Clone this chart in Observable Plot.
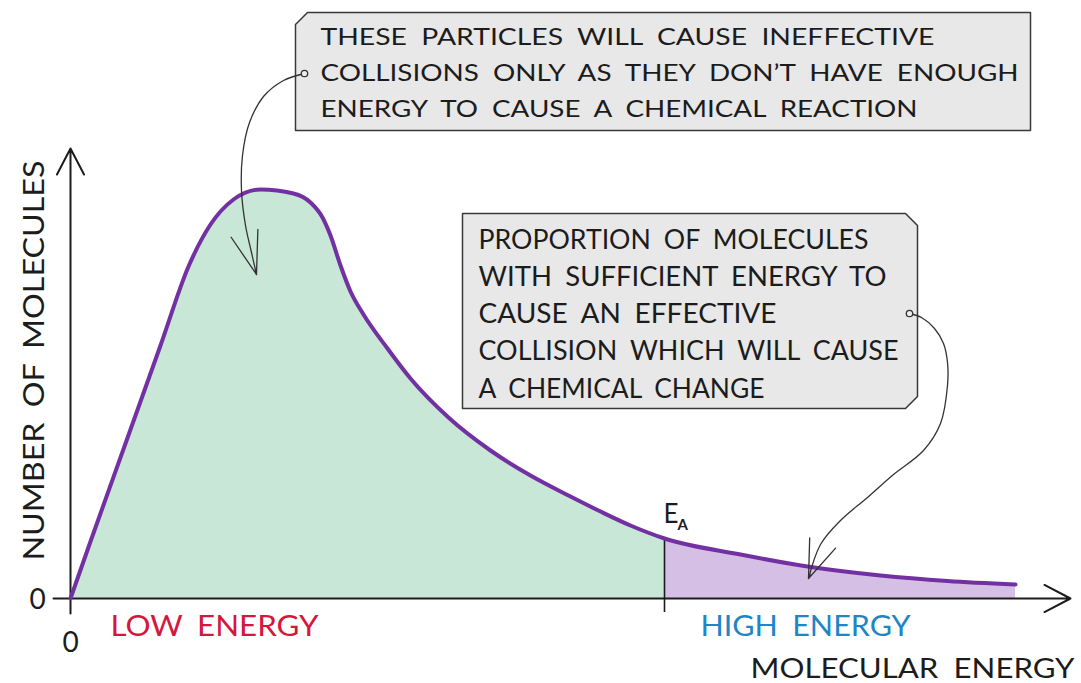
<!DOCTYPE html>
<html>
<head>
<meta charset="utf-8">
<script src="https://cdn.jsdelivr.net/npm/d3@7"></script>
<script src="https://cdn.jsdelivr.net/npm/@observablehq/plot@0.6"></script>
<style>
  html, body { margin: 0; padding: 0; background: #fff; }
  svg text { word-spacing: 6px; }
</style>
</head>
<body>
<div id="chart"></div>
<script>
// ---- Data ----
const energy    = [0, 20, 55, 90, 118, 140, 163, 190, 223, 240, 252, 260, 270, 280, 293, 317, 340, 378, 420, 460, 500, 530, 560, 594, 670, 737, 810, 877, 945];
const molecules = [0, 57, 155, 253, 332, 374, 399, 409, 405, 396, 381, 363, 333, 307, 284, 250, 220, 181, 148, 123, 102, 87, 73, 60, 44, 32, 23, 17.5, 14];
const activationEnergy = 594;
const box1Lines = ["THESE PARTICLES WILL CAUSE INEFFECTIVE", "COLLISIONS ONLY AS THEY DON\u2019T HAVE ENOUGH", "ENERGY TO CAUSE A CHEMICAL REACTION"];
const box2Lines = ["PROPORTION OF MOLECULES", "WITH SUFFICIENT ENERGY TO", "CAUSE AN EFFECTIVE", "COLLISION WHICH WILL CAUSE", "A CHEMICAL CHANGE"];
const yLabel = "NUMBER OF MOLECULES";
const xLabel = "MOLECULAR ENERGY";
const lowLabel = "LOW ENERGY";
const highLabel = "HIGH ENERGY";
const zeroLabel = "0";

// ---- Layout (pixel positions in the 1081x683 frame) ----
const px = v => v - 70;      // pixel x -> data x
const py = v => 598 - v;     // pixel y -> data y
const box1Shape = [[295,24],[307,12],[1030,12],[1030,130],[295,130],[295,24]];
const box2Shape = [[462,213],[905,213],[917,225],[917,396],[905,408],[462,408],[462,213]];
const arrow1Path = [[304,73],[283,80],[263,96],[249,122],[242,155],[241,190],[245,225],[251,252],[256,274]];
const arrow2Path = [[909,313],[921,317],[934,328],[943,343],[947,362],[947,385],[940,423],[923,450],[893,474],[867,497],[840,520],[820,544],[808,578]];
const heads = [
  {tip:[256,274], dir:[0.28,0.96], angle:36, len:52},
  {tip:[808,578], dir:[-0.37,0.93], angle:40, len:47}
];
const box1Widths = [614, 698, 597];
const box2Widths = [390, 408, 298, 420, 286];

const curve = energy.map((e, i) => ({e, m: molecules[i]}));
const low = curve.filter(d => d.e <= activationEnergy);
const high = curve.filter(d => d.e >= activationEnergy);
const eaValue = curve.find(d => d.e === activationEnergy).m;

const toPts = arr => arr.map(([x, y]) => ({x: px(x), y: py(y)}));
const headData = heads.map(h => ({
  x1: px(h.tip[0] - 150 * h.dir[0]), y1: py(h.tip[1] - 150 * h.dir[1]),
  x2: px(h.tip[0]), y2: py(h.tip[1]), angle: h.angle, len: h.len
}));

const ink = "#1c1c1c";
const fontFamily = "Lato, 'Noto Sans', sans-serif";

const chart = Plot.plot({
  width: 1081,
  height: 683,
  margin: 0,
  x: {domain: [-70, 1011], axis: null},
  y: {domain: [-85, 598], axis: null},
  style: {fontFamily, background: "#fff", color: ink},
  marks: [
    // filled areas under the distribution
    Plot.areaY(low, {x: "e", y: "m", fill: "#c9e7d7", curve: "monotone-x"}),
    Plot.areaY(high, {x: "e", y: "m", fill: "#d6bfe4", curve: "monotone-x"}),
    // axes
    Plot.arrow([{x1: -17, y1: 0, x2: 1000, y2: 0}], {x1: "x1", y1: "y1", x2: "x2", y2: "y2", stroke: ink, strokeWidth: 2, headLength: 22, headAngle: 55}),
    Plot.arrow([{x1: 0, y1: -15, x2: 0, y2: 450}], {x1: "x1", y1: "y1", x2: "x2", y2: "y2", stroke: ink, strokeWidth: 2, headLength: 22, headAngle: 55}),
    // activation energy marker
    Plot.ruleX([activationEnergy], {y1: -14, y2: eaValue, stroke: ink, strokeWidth: 1.6}),
    // the distribution curve
    Plot.line(curve, {x: "e", y: "m", stroke: "#7230a2", strokeWidth: 4, curve: "monotone-x"}),
    // annotation boxes
    Plot.line(toPts(box1Shape), {x: "x", y: "y", fill: "#e8e8e8", stroke: "#383838", strokeWidth: 1.5, curve: "linear"}),
    Plot.line(toPts(box2Shape), {x: "x", y: "y", fill: "#e8e8e8", stroke: "#383838", strokeWidth: 1.5, curve: "linear"}),
    Plot.text(box1Lines, {x: () => px(320), y: (d, i) => py(44 + i * 36), text: d => d, textAnchor: "start", lineAnchor: "bottom", fontSize: 24, fill: ink, ariaDescription: "box1-text"}),
    Plot.text(box2Lines, {x: () => px(478), y: (d, i) => py(248 + i * 37.3), text: d => d, textAnchor: "start", lineAnchor: "bottom", fontSize: 26, fill: ink, ariaDescription: "box2-text"}),
    // annotation arrows
    Plot.line(toPts(arrow1Path), {x: "x", y: "y", stroke: "#333", strokeWidth: 1.3, curve: "catmull-rom"}),
    Plot.line(toPts(arrow2Path), {x: "x", y: "y", stroke: "#333", strokeWidth: 1.3, curve: "catmull-rom"}),
    ...headData.map(h => Plot.arrow([h], {x1: "x1", y1: "y1", x2: "x2", y2: "y2", stroke: "#333", strokeWidth: 1.3, headLength: h.len, headAngle: h.angle, insetStart: 146})),
    Plot.dot([{x: px(304), y: py(73)}, {x: px(909), y: py(313)}], {x: "x", y: "y", r: 3.2, stroke: "#333", strokeWidth: 1.3, fill: "#eee"}),
    // axis and region labels
    Plot.text([yLabel], {x: () => px(43), y: () => py(360), text: d => d, rotate: -90, textAnchor: "middle", lineAnchor: "bottom", fontSize: 28, fill: ink, ariaDescription: "ylabel"}),
    Plot.text([xLabel], {x: () => px(750), y: () => py(677), text: d => d, textAnchor: "start", lineAnchor: "bottom", fontSize: 26, fill: ink, ariaDescription: "xlabel"}),
    Plot.text([lowLabel], {x: () => px(110), y: () => py(635), text: d => d, textAnchor: "start", lineAnchor: "bottom", fontSize: 28, fill: "#d5163d", ariaDescription: "lowlabel"}),
    Plot.text([highLabel], {x: () => px(700), y: () => py(635), text: d => d, textAnchor: "start", lineAnchor: "bottom", fontSize: 28, fill: "#1f86c6", ariaDescription: "highlabel"}),
    Plot.text([zeroLabel], {x: () => px(37), y: () => py(608), text: d => d, textAnchor: "middle", lineAnchor: "bottom", fontSize: 28, fill: ink}),
    Plot.text([zeroLabel], {x: () => px(70), y: () => py(651), text: d => d, textAnchor: "middle", lineAnchor: "bottom", fontSize: 28, fill: ink}),
    Plot.text(["E"], {x: () => activationEnergy - 1, y: () => py(522), text: d => d, textAnchor: "start", lineAnchor: "bottom", fontSize: 26, fill: ink}),
    Plot.text(["A"], {x: () => activationEnergy + 13, y: () => py(529), text: d => d, textAnchor: "start", lineAnchor: "bottom", fontSize: 15, fontWeight: "bold", fill: ink})
  ]
});

document.getElementById("chart").appendChild(chart);

const fit = (label, widths, adjust) => {
  chart.querySelectorAll(`g[aria-description="${label}"] text`).forEach((t, i) => {
    t.setAttribute("textLength", widths[i]);
    t.setAttribute("lengthAdjust", adjust);
  });
};
fit("box1-text", box1Widths, "spacingAndGlyphs");
fit("box2-text", box2Widths, "spacingAndGlyphs");
fit("ylabel", [400], "spacingAndGlyphs");
fit("xlabel", [324], "spacingAndGlyphs");
fit("lowlabel", [208], "spacingAndGlyphs");
fit("highlabel", [210], "spacingAndGlyphs");
</script>
</body>
</html>
